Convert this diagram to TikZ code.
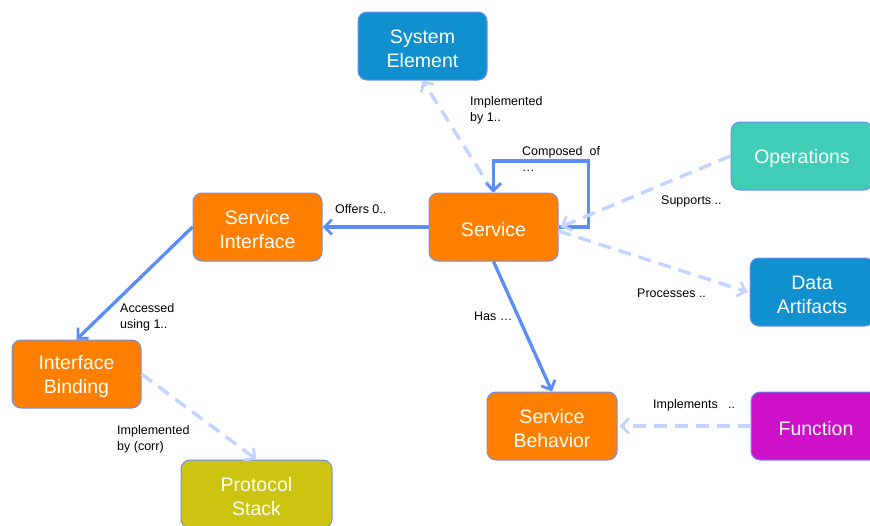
\documentclass[tikz,border=0pt]{standalone}
\usepackage{fontspec}
\setmainfont{Liberation Sans}
\usetikzlibrary{arrows.meta,calc}
\definecolor{cOrange}{RGB}{255,127,0}
\definecolor{cBlue}{RGB}{17,144,207}
\definecolor{cTeal}{RGB}{64,205,181}
\definecolor{cMag}{RGB}{204,17,200}
\definecolor{cOlive}{RGB}{204,196,16}
\definecolor{cBorder}{RGB}{110,142,245}
\definecolor{cSolid}{RGB}{91,141,246}
\definecolor{cDash}{RGB}{195,211,255}
\tikzset{
  box/.style={draw=cBorder, line width=1pt, rounded corners=9pt, minimum width=129pt, minimum height=68pt, inner sep=0pt},
  boxtxt/.style={text=white, align=center, font=\fontsize{19.5}{24}\selectfont, inner sep=0pt},
  solidarr/.style={draw=cSolid, line width=3.3pt, -{Straight Barb[length=7.5pt,width=15pt,line width=2.8pt]}},
  dasharr/.style={draw=cDash, line width=3.4pt, dash pattern=on 13pt off 8pt, -{Straight Barb[length=7.5pt,width=15pt,line width=2.8pt]}},
  lbl/.style={anchor=west, align=left, inner sep=0pt, font=\fontsize{12.5}{16}\selectfont, text=black}
}
\begin{document}
\begin{tikzpicture}[x=1pt,y=-1pt]
\useasboundingbox (0,0) rectangle (870,525);
\clip (0,0) rectangle (870,525);
% boxes
\node[box, fill=cBlue] (se) at (422.5,46) {};
\node[box, fill=cOrange] (srv) at (493.5,227) {};
\node[box, fill=cOrange] (si) at (257.5,227) {};
\node[box, fill=cOrange] (ib) at (76.5,374) {};
\node[box, fill=cOlive, minimum width=151pt] (ps) at (256.5,494) {};
\node[box, fill=cTeal, minimum width=142pt] (ops) at (802,156) {};
\node[box, fill=cBlue, minimum width=124pt] (da) at (812,292) {};
\node[box, fill=cOrange, minimum width=130pt] (sb) at (552,426) {};
\node[box, fill=cMag, minimum width=130pt] (fn) at (816,426) {};
% box texts
\node[boxtxt] (se-t) at ([yshift=-2.5pt]se.center) {System\\Element};
\node[boxtxt] (srv-t) at ([yshift=-2.5pt]srv.center) {Service};
\node[boxtxt] (si-t) at ([yshift=-2.5pt]si.center) {Service\\Interface};
\node[boxtxt] (ib-t) at ([yshift=-2.5pt]ib.center) {Interface\\Binding};
\node[boxtxt] (ps-t) at ([yshift=-2.5pt]ps.center) {Protocol\\Stack};
\node[boxtxt] (ops-t) at ([yshift=-2.5pt]ops.center) {Operations};
\node[boxtxt] (da-t) at ([yshift=-2.5pt]da.center) {Data\\Artifacts};
\node[boxtxt] (sb-t) at ([yshift=-2.5pt]sb.center) {Service\\Behavior};
\node[boxtxt] (fn-t) at ([yshift=-2.5pt]fn.center) {Function};
% connectors
\draw[dasharr] (srv.north) -- (se.south);
\draw[solidarr] (srv.east) -| ++(30,-66) -| (srv.north);
\draw[dasharr] (ops.west) -- ([xshift=2pt]srv.east);
\draw[dasharr] ([yshift=-4pt]srv.east) -- ([xshift=-2pt]da.west);
\draw[solidarr] (srv.west) -- (si.east);
\draw[solidarr] (srv.south) -- (sb.north);
\draw[dasharr] (fn.west) -- ([xshift=2pt]sb.east);
\draw[solidarr] (si.west) -- (ib.north);
\draw[dasharr] (ib.east) -- (ps.north);
% labels
\node[lbl] (l1) at (335,209) {Offers 0..};
\node[lbl] (l2) at (470,110) {Implemented\\by 1..};
\node[lbl] (l3) at (522,159) {Composed\ \ of\\\ldots};
\node[lbl] (l4) at (661,201) {Supports ..};
\node[lbl] (l5) at (637,293) {Processes ..};
\node[lbl] (l6) at (474,316) {Has \ldots};
\node[lbl] (l7) at (120,317) {Accessed\\using 1..};
\node[lbl] (l8) at (117,439) {Implemented\\by (corr)};
\node[lbl] (l9) at (653,405) {Implements\ \ \ ..};
\end{tikzpicture}
\end{document}
